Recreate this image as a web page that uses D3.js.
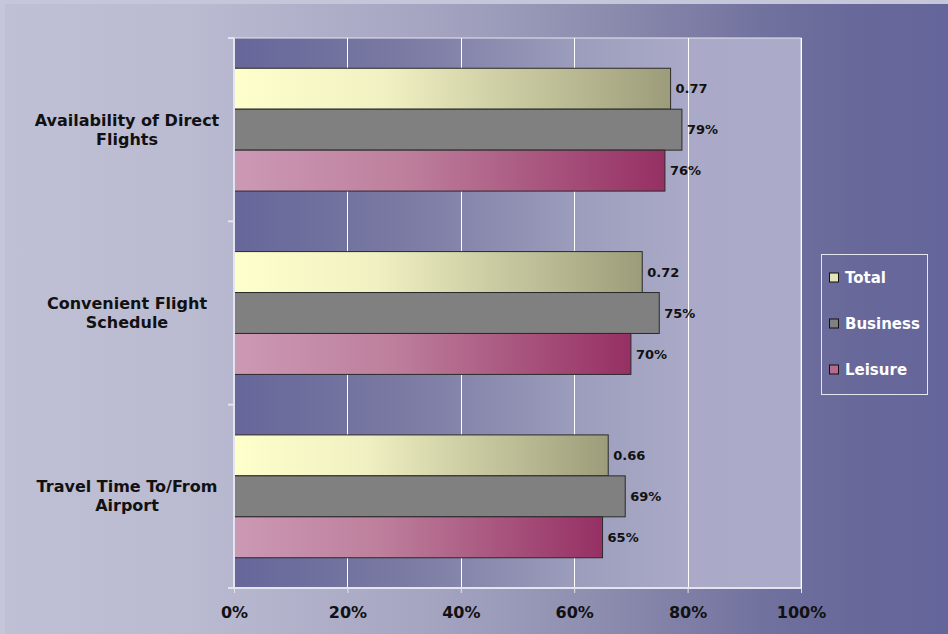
<!DOCTYPE html>
<html>
<head>
<meta charset="utf-8">
<script src="https://cdn.jsdelivr.net/npm/d3@7"></script>
<style>
  html, body { margin: 0; padding: 0; background: #c6c6da; }
  svg { display: block; }
  text { font-family: "DejaVu Sans", Verdana, sans-serif; font-weight: bold; }
</style>
</head>
<body>
<svg id="chart" width="948" height="634"></svg>
<script>
// ---- data ----
const categories = ["Availability of Direct Flights", "Convenient Flight Schedule", "Travel Time To/From Airport"];
const categoryLines = [["Availability of Direct", "Flights"], ["Convenient Flight", "Schedule"], ["Travel Time To/From", "Airport"]];
const seriesNames = ["Total", "Business", "Leisure"];
const totalValues = [0.77, 0.72, 0.66];
const businessValues = [0.79, 0.75, 0.69];
const leisureValues = [0.76, 0.70, 0.65];
const totalLabels = ["0.77", "0.72", "0.66"];
const businessLabels = ["79%", "75%", "69%"];
const leisureLabels = ["76%", "70%", "65%"];
const xTicks = [0, 0.2, 0.4, 0.6, 0.8, 1.0];

const seriesValues = [totalValues, businessValues, leisureValues];
const seriesLabels = [totalLabels, businessLabels, leisureLabels];
const seriesFill = ["url(#gTotal)", "#808080", "url(#gLeisure)"];

const svg = d3.select("#chart");
const defs = svg.append("defs");

function lin(id, stops) {
  const g = defs.append("linearGradient").attr("id", id)
    .attr("x1", "0%").attr("x2", "100%").attr("y1", "0%").attr("y2", "0%");
  stops.forEach(s => g.append("stop").attr("offset", s[0]).attr("stop-color", s[1]));
}
lin("gBg", [[0, "#bfbfd5"], [0.2, "#babad1"], [0.45, "#a5a5c2"], [0.65, "#8a8aad"], [0.8, "#72729f"], [0.9, "#68689a"], [1, "#64659a"]]);
lin("gPlot", [[0, "#66669a"], [0.3, "#7a7aa3"], [0.6, "#9c9cbc"], [0.8, "#aaaac8"], [1, "#ababc9"]]);
lin("gTotal", [[0, "#ffffcc"], [0.35, "#f0f0c2"], [1, "#9c9c7a"]]);
lin("gLeisure", [[0, "#cc99b5"], [0.4, "#bd7f9c"], [1, "#963064"]]);

// background
svg.append("rect").attr("x", 5).attr("y", 4).attr("width", 943).attr("height", 630)
  .attr("fill", "url(#gBg)");

// scales
const x = d3.scaleLinear().domain([0, 1]).range([234, 801]);
const y0 = d3.scaleBand().domain(categories).range([38, 588]).paddingInner(0.33).paddingOuter(0.165);
const y1 = d3.scaleBand().domain(seriesNames).range([0, y0.bandwidth()]);

// plot area
svg.append("rect").attr("x", x(0)).attr("y", 38).attr("width", x(1) - x(0)).attr("height", 550)
  .attr("fill", "url(#gPlot)").attr("stroke", "#e6e6f0").attr("stroke-width", 1);

// gridlines
svg.append("g").selectAll("line").data(xTicks.slice(1)).join("line")
  .attr("x1", d => Math.round(x(d)) + 0.5).attr("x2", d => Math.round(x(d)) + 0.5)
  .attr("y1", 38).attr("y2", 588)
  .attr("stroke", "#ffffff").attr("stroke-width", 1);

// bars
const groups = svg.append("g").selectAll("g").data(categories).join("g")
  .attr("transform", c => `translate(0,${y0(c)})`);

groups.each(function (c, ci) {
  const g = d3.select(this);
  seriesNames.forEach((s, si) => {
    const v = seriesValues[si][ci];
    g.append("rect")
      .attr("x", x(0)).attr("y", y1(s))
      .attr("width", x(v) - x(0)).attr("height", y1.bandwidth())
      .attr("fill", seriesFill[si]).attr("stroke", "#2a2a2a").attr("stroke-width", 1);
    g.append("text")
      .attr("x", x(v) + 5).attr("y", y1(s) + y1.bandwidth() / 2)
      .attr("dy", "0.36em").attr("font-size", 13).attr("fill", "#111")
      .text(seriesLabels[si][ci]);
  });
});

// x axis
const xAxis = d3.axisBottom(x).tickValues(xTicks).tickFormat(d3.format(".0%")).tickSize(5).tickPadding(14);
const xg = svg.append("g").attr("transform", "translate(0,588)").call(xAxis);
xg.select(".domain").attr("stroke", "#e4e4ee").attr("stroke-width", 2)
  .attr("d", `M${x(0) - 6},0H${x(1)}`);
xg.selectAll(".tick line").attr("stroke", "#e4e4ee");
xg.selectAll(".tick text").attr("font-size", 16).attr("fill", "#111")
  .attr("font-family", "DejaVu Sans, sans-serif").attr("font-weight", "bold");

// y axis line and ticks at category boundaries
const boundaries = [38].concat(categories.map(c => y0(c) - y0.paddingOuter() * y0.step() + y0.step()));
svg.append("line").attr("x1", x(0)).attr("x2", x(0)).attr("y1", 38).attr("y2", 588)
  .attr("stroke", "#e4e4ee").attr("stroke-width", 2);
svg.append("g").selectAll("line").data(boundaries).join("line")
  .attr("x1", x(0) - 6).attr("x2", x(0)).attr("y1", d => d).attr("y2", d => d)
  .attr("stroke", "#e4e4ee").attr("stroke-width", 2);

// category labels
categories.forEach((c, ci) => {
  const cy = y0(c) + y0.bandwidth() / 2;
  const t = svg.append("text").attr("text-anchor", "middle").attr("font-size", 16).attr("fill", "#111");
  categoryLines[ci].forEach((ln, li) => {
    t.append("tspan").attr("x", 127).attr("y", cy - 4 + li * 19).text(ln);
  });
});

// legend
const legend = svg.append("g");
legend.append("rect").attr("x", 821.5).attr("y", 254.5).attr("width", 106).attr("height", 140)
  .attr("fill", "none").attr("stroke", "#e6e6f0").attr("stroke-width", 1);
const legendFill = ["#e4e4b4", "#808080", "#b86a8c"];
seriesNames.forEach((s, i) => {
  const cy = 278 + i * 46;
  legend.append("rect").attr("x", 829.5).attr("y", cy - 5).attr("width", 9).attr("height", 9)
    .attr("fill", legendFill[i]).attr("stroke", "#111").attr("stroke-width", 1);
  legend.append("text").attr("x", 845).attr("y", cy).attr("dy", "0.36em")
    .attr("font-size", 15).attr("fill", "#ffffff").text(s);
});
</script>
</body>
</html>
